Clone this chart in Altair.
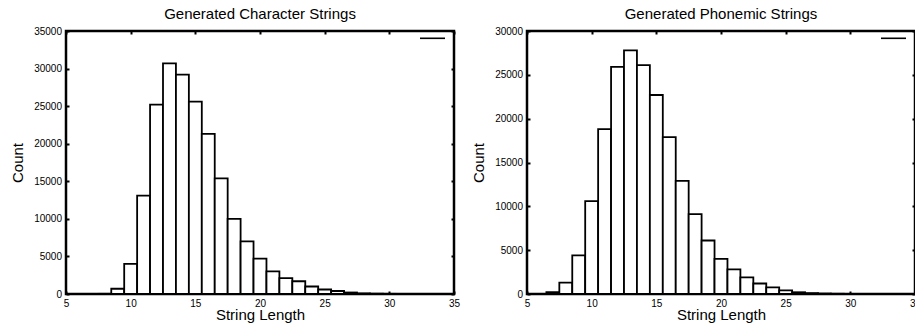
import altair as alt
import pandas as pd

# ---- data ----
char_lengths = list(range(8, 31))
char_counts = [20, 700, 4000, 13100, 25200, 30700, 29200, 25600, 21300, 15400,
               10000, 7000, 4700, 3000, 2100, 1700, 1000, 600, 400, 200, 80, 40, 20]

phon_lengths = list(range(7, 31))
phon_counts = [200, 1300, 4400, 10600, 18800, 25900, 27800, 26100, 22700, 17900,
               12900, 9100, 6100, 4000, 2800, 1900, 1200, 750, 420, 200, 100, 50, 25, 10]

x_ticks = [5, 10, 15, 20, 25, 30, 35]
char_y_ticks = [0, 5000, 10000, 15000, 20000, 25000, 30000, 35000]
phon_y_ticks = [0, 5000, 10000, 15000, 20000, 25000, 30000]

titles = ["Generated Character Strings", "Generated Phonemic Strings"]
series = ["Character", "Phonemic"]

FONT = "Liberation Sans"
W, H = 388, 263
TICK = 3


def panel(lengths, counts, y_ticks, title, name):
    df = pd.DataFrame({"len": lengths, "count": counts, "series": name})
    xs = alt.Scale(domain=[x_ticks[0], x_ticks[-1]], nice=False, zero=False)
    ys = alt.Scale(domain=[0, y_ticks[-1]], nice=False)
    base = alt.Chart(df).transform_calculate(
        lo="datum.len - 0.5", hi="datum.len + 0.5", zero="0"
    )
    bars = base.mark_rect(fill="white", strokeWidth=1.8, clip=True).encode(
        x=alt.X("lo:Q", scale=xs,
                axis=alt.Axis(orient="bottom", values=x_ticks, title="String Length",
                              offset=-TICK, tickSize=TICK, tickWidth=2, tickColor="black",
                              domain=False, grid=False, labelPadding=4.5, format="d",
                              labelFont=FONT, labelFontSize=10, labelColor="black",
                              labelFlush=False, labelOverlap=False,
                              titleFont=FONT, titleFontSize=15, titleFontWeight="normal",
                              titleColor="black", titleBaseline="alphabetic", titleY=28.5)),
        x2="hi:Q",
        y=alt.Y("count:Q", scale=ys,
                axis=alt.Axis(orient="left", values=y_ticks, title="Count",
                              offset=-TICK, tickSize=TICK, tickWidth=2, tickColor="black",
                              domain=False, grid=False, labelPadding=4.5, format="d",
                              labelFont=FONT, labelFontSize=10, labelColor="black",
                              labelFlush=False, labelOverlap=False,
                              titleFont=FONT, titleFontSize=15, titleFontWeight="normal",
                              titleColor="black", titleBaseline="alphabetic", titleX=-47)),
        y2="zero:Q",
        stroke=alt.Stroke("series:N", scale=alt.Scale(range=["black"]),
                          legend=alt.Legend(title=None, orient="none", legendX=353, legendY=-6.2,
                                            symbolType="stroke", symbolSize=625,
                                            symbolStrokeWidth=1.6, symbolStrokeColor="black",
                                            labelExpr="''", padding=0)),
    )
    mirror = base.mark_rect(opacity=0).encode(
        x=alt.X("lo:Q", scale=xs,
                axis=alt.Axis(orient="top", values=x_ticks, title=None, labels=False,
                              offset=-TICK, tickSize=TICK, tickWidth=2, tickColor="black",
                              domain=False, grid=False)),
        x2="hi:Q",
        y=alt.Y("count:Q", scale=ys,
                axis=alt.Axis(orient="right", values=y_ticks, title=None, labels=False,
                              offset=-TICK, tickSize=TICK, tickWidth=2, tickColor="black",
                              domain=False, grid=False)),
        y2="zero:Q",
    )
    return alt.layer(bars, mirror).resolve_axis(x="independent", y="independent").properties(
        width=W, height=H,
        title=alt.TitleParams(title, font=FONT, fontSize=15, fontWeight="normal",
                              color="black", anchor="middle", frame="group",
                              baseline="alphabetic", offset=10, dy=19),
    )


left = panel(char_lengths, char_counts, char_y_ticks, titles[0], series[0])
right = panel(phon_lengths, phon_counts, phon_y_ticks, titles[1], series[1])

chart = alt.hconcat(left, right, spacing=73, bounds="flush").resolve_scale(
    stroke="independent"
).properties(
    autosize=alt.AutoSizeParams(type="none"),
    padding={"left": 66, "top": 31, "right": 849, "bottom": 293},
    background="white",
).configure_view(stroke="black", strokeWidth=2.5)

chart.save("out.html", embed_options={"renderer": "svg", "actions": False})
